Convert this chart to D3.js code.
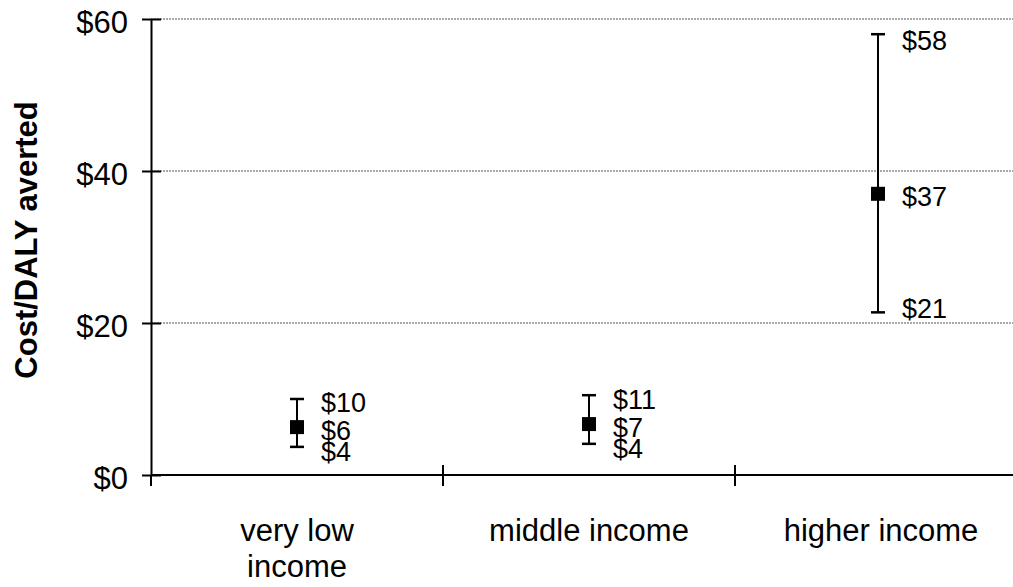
<!DOCTYPE html>
<html>
<head>
<meta charset="utf-8">
<script src="https://cdn.jsdelivr.net/npm/d3@7/dist/d3.min.js"></script>
<style>
  html, body { margin: 0; padding: 0; background: #fff; }
  svg { display: block; font-family: "Liberation Sans", Arial, sans-serif; }
</style>
</head>
<body>
<svg id="chart" width="1013" height="587"></svg>
<script>
// Cost per DALY averted by income group: central estimate with low/high range
const categories = [["very low", "income"], ["middle income"], ["higher income"]];
const lowValues  = [3.7, 4.1, 21.4];
const midValues  = [6.3, 6.7, 37.0];
const highValues = [10.0, 10.5, 58.0];
const yTicks = [0, 20, 40, 60];

const svg = d3.select("#chart");
const margin = { left: 151, top: 19, right: 0, bottom: 112 };
const W = 1013, H = 587;
const bandW = 292;

const x = d3.scaleBand()
  .domain(d3.range(categories.length))
  .range([margin.left, margin.left + bandW * categories.length])
  .padding(0);

const y = d3.scaleLinear().domain([0, 60]).range([H - margin.bottom, margin.top]);

const fmt = v => "$" + Math.round(v);

// horizontal gridlines
svg.append("g").selectAll("line")
  .data(yTicks.filter(d => d > 0))
  .join("line")
  .attr("x1", margin.left).attr("x2", W)
  .attr("y1", d => y(d)).attr("y2", d => y(d))
  .attr("stroke", "#555").attr("stroke-width", 1)
  .attr("stroke-dasharray", "2,1");

// y axis
const yAxis = d3.axisLeft(y)
  .tickValues(yTicks)
  .tickFormat(d => "$" + d)
  .tickSizeInner(9)
  .tickSizeOuter(0)
  .tickPadding(6);
const gy = svg.append("g").attr("transform", `translate(${margin.left},0)`).call(yAxis);
gy.select(".domain").attr("stroke", "#000").attr("stroke-width", 2);
gy.selectAll(".tick line").attr("stroke", "#000").attr("stroke-width", 2).attr("x2", 10).attr("x1", -9);
gy.selectAll(".tick text").attr("font-size", 31).attr("fill", "#000")
  .attr("font-family", "Liberation Sans, Arial, sans-serif")
  .attr("x", -23).attr("y", 4);

// x axis with tick marks at band boundaries
const x0 = H - margin.bottom;
svg.append("line")
  .attr("x1", margin.left).attr("x2", W)
  .attr("y1", x0).attr("y2", x0)
  .attr("stroke", "#000").attr("stroke-width", 2);
const bounds = d3.range(categories.length + 1).map(i => margin.left + bandW * i).filter(v => v <= W);
svg.append("g").selectAll("line")
  .data(bounds)
  .join("line")
  .attr("x1", d => d).attr("x2", d => d)
  .attr("y1", (d, i) => i === 0 ? x0 : x0 - 10)
  .attr("y2", x0 + 11)
  .attr("stroke", "#000").attr("stroke-width", 2);

// category labels
const catG = svg.append("g").selectAll("text")
  .data(categories)
  .join("text")
  .attr("x", (d, i) => x(i) + x.bandwidth() / 2)
  .attr("y", 541)
  .attr("text-anchor", "middle")
  .attr("font-size", 31)
  .attr("fill", "#000");
catG.selectAll("tspan")
  .data(d => d)
  .join("tspan")
  .attr("x", function () { return this.parentNode.getAttribute("x"); })
  .attr("dy", (d, i) => i === 0 ? 0 : 36)
  .text(d => d);

// y axis title
svg.append("text")
  .attr("transform", `translate(37,240) rotate(-90)`)
  .attr("text-anchor", "middle")
  .attr("font-size", 31)
  .attr("font-weight", "bold")
  .attr("fill", "#000")
  .text("Cost/DALY averted");

// error bars, markers and value labels
const pts = categories.map((c, i) => ({
  i, lo: lowValues[i], mid: midValues[i], hi: highValues[i],
  cx: x(i) + x.bandwidth() / 2 - (i === 2 ? 3 : 0)
}));

const g = svg.append("g");
g.selectAll(".whisker").data(pts).join("line")
  .attr("x1", d => d.cx).attr("x2", d => d.cx)
  .attr("y1", d => y(d.lo)).attr("y2", d => y(d.hi))
  .attr("stroke", "#000").attr("stroke-width", 2);
["lo", "hi"].forEach(k => {
  g.selectAll(".cap-" + k).data(pts).join("line")
    .attr("x1", d => d.cx - 7).attr("x2", d => d.cx + 7)
    .attr("y1", d => y(d[k])).attr("y2", d => y(d[k]))
    .attr("stroke", "#000").attr("stroke-width", 2.5);
});
g.selectAll(".mark").data(pts).join("rect")
  .attr("x", d => d.cx - 7).attr("y", d => y(d.mid) - 7)
  .attr("width", 14).attr("height", 14)
  .attr("fill", "#000");

const labels = [];
pts.forEach(d => {
  labels.push({ cx: d.cx, v: d.hi, off: d.i === 2 ? 6 : 4 });
  labels.push({ cx: d.cx, v: d.mid, off: 3 });
  labels.push({ cx: d.cx, v: d.lo, off: d.i === 2 ? -4 : 5 });
});
g.selectAll(".vlabel").data(labels).join("text")
  .attr("x", d => d.cx + 24)
  .attr("y", d => y(d.v) + d.off)
  .attr("dy", "0.35em")
  .attr("font-size", 27)
  .attr("fill", "#000")
  .text(d => fmt(d.v));
</script>
</body>
</html>
